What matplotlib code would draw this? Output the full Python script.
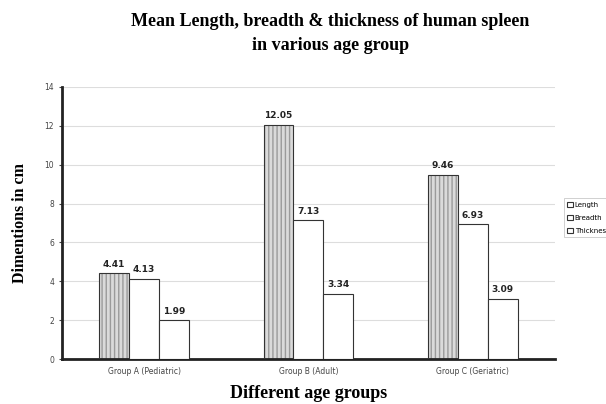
import matplotlib
matplotlib.use("Agg")
import matplotlib.pyplot as plt
import numpy as np

groups = ["Group A (Pediatric)", "Group B (Adult)", "Group C (Geriatric)"]
series = ["Length", "Breadth", "Thickness"]
length = [4.41, 12.05, 9.46]
breadth = [4.13, 7.13, 6.93]
thickness = [1.99, 3.34, 3.09]
yticks = [0, 2, 4, 6, 8, 10, 12, 14]

fig = plt.figure(figsize=(6.06, 4.04), dpi=100)
ax = fig.add_axes([0.102, 0.111, 0.814, 0.674])

x = np.arange(len(groups))
w = 0.182
vals = [length, breadth, thickness]
for i, (name, v) in enumerate(zip(series, vals)):
    pos = x + (i - 1) * w
    if i == 0:
        ax.bar(pos, v, w, color="#dadada", hatch="||||", edgecolor="#9a9a9a", linewidth=0, zorder=2)
        ax.bar(pos, v, w, color="none", edgecolor="#333333", linewidth=0.8, zorder=3, label=name)
    else:
        ax.bar(pos, v, w, color="white", edgecolor="#333333", linewidth=0.8, zorder=3, label=name)
    for p, val in zip(pos, v):
        ax.text(p, val + 0.25, f"{val:.2f}", ha="center", va="bottom", fontsize=6.5,
                fontweight="bold", color="#222222")

ax.set_xlim(-0.5, 2.5)
ax.set_ylim(0, 14)
ax.set_yticks(yticks)
ax.set_xticks(x)
ax.set_xticklabels(groups)
ax.tick_params(axis="both", labelsize=5.5, colors="#444444", length=2, width=0.8)
ax.tick_params(axis="x", length=0, pad=6)
ax.grid(axis="y", color="#dddddd", linewidth=0.8, zorder=0)
ax.set_axisbelow(True)
for s in ["top", "right"]:
    ax.spines[s].set_visible(False)
ax.spines["left"].set_linewidth(2)
ax.spines["bottom"].set_linewidth(2)
ax.spines["left"].set_color("#222222")
ax.spines["bottom"].set_color("#222222")

serif = "Liberation Serif"
ax.set_ylabel("Dimentions in cm", family=serif, fontsize=11.5, fontweight="bold", labelpad=12)
ax.set_xlabel("Different age groups", family=serif, fontsize=13, fontweight="bold", labelpad=6)
fig.text(0.545, 0.918, "Mean Length, breadth & thickness of human spleen\nin various age group",
         ha="center", va="center", family=serif, fontsize=13, fontweight="bold",
         linespacing=1.55)

leg = ax.legend(loc="center left", bbox_to_anchor=(1.01, 0.52), fontsize=5, frameon=True,
                fancybox=False, edgecolor="#bbbbbb", handlelength=0.8, handleheight=0.8,
                handletextpad=0.3, borderpad=0.5, labelspacing=1.0)
leg.get_frame().set_linewidth(0.6)

fig.savefig("out.png", dpi=100)
